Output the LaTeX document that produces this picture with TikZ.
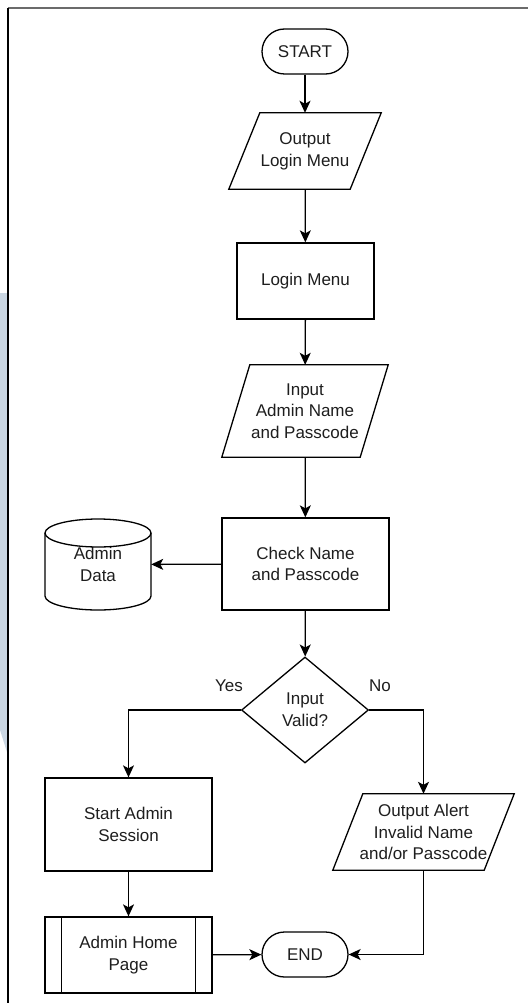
\documentclass[tikz,border=0pt]{standalone}
\usepackage{fontspec}
\setmainfont{Liberation Sans}
\usetikzlibrary{shapes.geometric,arrows.meta,calc}

\definecolor{stripblue}{HTML}{CAD6E2}
\definecolor{framegray}{HTML}{6B6B6B}
\definecolor{inkgray}{HTML}{1E1E1E}

\tikzset{
  line/.style={draw=black, line width=1.3pt, line join=miter},
  arr/.style={line, -{Stealth[length=12pt,width=11pt,inset=3pt]}},
  lbl/.style={font=\fontsize{17}{21.7}\selectfont, text=inkgray, align=center},
  box/.style={line, lbl, rectangle, inner sep=0pt},
  ghost/.style={lbl, rectangle, inner sep=0pt},
  term/.style={box, rounded corners=22.5pt, minimum width=86pt, minimum height=45pt},
  choice/.style={line, lbl, diamond, inner sep=0pt, minimum width=127pt, minimum height=106pt},
}

% parallelogram (input/output) drawn over a ghost node: #1 node, #2 slant
\newcommand\slantbox[2]{%
  \draw[line] ($(#1.north west)+(#2,0)$) -- (#1.north east)
    -- ($(#1.south east)-(#2,0)$) -- (#1.south west) -- cycle;}

\begin{document}
\begin{tikzpicture}[x=1pt,y=-1pt]
  \fill[white] (0,0) rectangle (528,1003);
  \useasboundingbox (0,0) rectangle (528,1003);

  % page frame
  \fill[stripblue] (0,293) -- (7,293) -- (7,752) -- (0,730) -- cycle;
  \draw[line width=1.5pt, framegray] (8,8) -- (528,8);
  \draw[line width=1.5pt, black] (8,8) -- (8,1003);

  % nodes
  \node[term] (start) at (305,51.5) {START};

  \node[ghost, minimum width=152pt, minimum height=76pt] (outmenu) at (305,151) {Output\\Login Menu};
  \slantbox{outmenu}{31}

  \node[box, minimum width=137pt, minimum height=76pt] (menu) at (305.5,281) {Login Menu};

  \node[ghost, minimum width=166pt, minimum height=92pt] (input) at (305,411) {Input\\Admin Name\\and Passcode};
  \slantbox{input}{28}

  \node[box, minimum width=167pt, minimum height=92pt] (check) at (305.5,564) {Check Name\\and Passcode};

  \node[ghost, minimum width=106pt, minimum height=91pt] (data) at (98,564.5) {Admin\\Data};
  \draw[line] (98,533) ellipse [x radius=53, y radius=14];
  \draw[line] (45,533) -- (45,596) arc[start angle=180, end angle=0, x radius=53, y radius=14] -- (151,533);

  \node[choice] (valid) at (305,710) {Input\\Valid?};
  \node[lbl] (yes) at (229,686) {Yes};
  \node[lbl] (no) at (380,686) {No};

  \node[box, minimum width=167pt, minimum height=93pt] (session) at (128.5,824.5) {Start Admin\\Session};

  \node[ghost, minimum width=181pt, minimum height=76pt] (alert) at (423.5,832) {Output Alert\\Invalid Name\\and/or Passcode};
  \slantbox{alert}{30}

  \node[box, minimum width=167pt, minimum height=76pt] (home) at (128.5,955) {Admin Home\\Page};
  \draw[line] ([xshift=17pt]home.north west) -- ([xshift=17pt]home.south west);
  \draw[line] ([xshift=-17pt]home.north east) -- ([xshift=-17pt]home.south east);

  \node[term] (finish) at (305,954.5) {END};

  % connectors
  \draw[arr] (start) -- (outmenu);
  \draw[arr] (outmenu) -- (menu);
  \draw[arr] (menu) -- (input);
  \draw[arr] (input) -- (check);
  \draw[arr] (check) -- (data);
  \draw[arr] (check) -- (valid);
  \draw[arr] (valid.west) -| (session.north);
  \draw[arr] (valid.east) -| (alert.north);
  \draw[arr] (session) -- (home);
  \draw[arr] (home) -- (finish);
  \draw[arr] (alert.south) |- (finish.east);
\end{tikzpicture}
\end{document}
